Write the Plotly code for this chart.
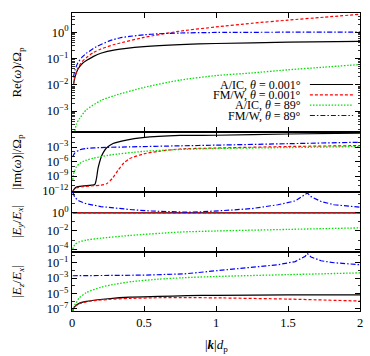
import plotly.graph_objects as go

# ---------------- data ----------------
# Panel 1: Re(omega)/Omega_p
k_re_aic0 = [0.01, 0.02, 0.04, 0.07, 0.1, 0.15, 0.2, 0.3, 0.5, 0.75, 1, 1.5, 2]
re_aic0 = [0.0100, 0.0191, 0.038, 0.063, 0.083, 0.120, 0.158, 0.214, 0.282, 0.339, 0.372, 0.417, 0.447]
k_re_fmw0 = [0.01, 0.02, 0.04, 0.07, 0.1, 0.15, 0.2, 0.3, 0.5, 0.75, 1, 1.25, 1.5, 1.75, 2]
re_fmw0 = [0.0102, 0.0204, 0.0417, 0.0759, 0.107, 0.170, 0.229, 0.347, 0.631, 1.10, 1.58, 2.19, 2.88, 3.72, 4.79]
k_re_aic89 = [0.02, 0.03, 0.05, 0.1, 0.2, 0.3, 0.5, 0.75, 1, 1.25, 1.5, 1.75, 2]
re_aic89 = [1.78e-4, 3.16e-4, 5.01e-4, 1.12e-3, 2.51e-3, 3.98e-3, 7.94e-3, 1.51e-2, 2.24e-2, 2.82e-2, 3.72e-2, 4.68e-2, 5.89e-2]
k_re_fmw89 = [0.01, 0.02, 0.04, 0.07, 0.1, 0.17, 0.26, 0.33, 0.4, 0.5, 0.6, 0.75, 1, 1.5, 2]
re_fmw89 = [0.0191, 0.0355, 0.0676, 0.112, 0.158, 0.282, 0.468, 0.603, 0.692, 0.794, 0.871, 0.933, 0.977, 1.0, 1.0]

# Panel 2: |Im(omega)|/Omega_p
k_im_aic0 = [0.005, 0.015, 0.03, 0.08, 0.158, 0.17, 0.18, 0.19, 0.204, 0.22, 0.239, 0.285, 0.378, 0.49, 0.75, 1, 1.5, 2]
im_aic0 = [6.3e-13, 2.0e-12, 5.0e-12, 8.9e-12, 1.8e-11, 3.2e-10, 3.2e-8, 5.0e-7, 1.1e-5, 1.0e-4, 6.3e-4, 5.5e-3, 2.8e-2, 8.9e-2, 0.25, 0.28, 0.50, 0.79]
k_im_fmw0 = [0.005, 0.015, 0.03, 0.08, 0.15, 0.2, 0.24, 0.28, 0.32, 0.36, 0.4, 0.5, 0.6, 0.75, 1, 1.5, 2]
im_fmw0 = [6.3e-13, 1.6e-12, 3.5e-12, 6.3e-12, 1.0e-11, 1.3e-11, 2.5e-11, 3.2e-10, 1.6e-8, 5.0e-7, 4.0e-6, 4.0e-5, 1.3e-4, 4.0e-4, 6.3e-4, 1.3e-3, 2.0e-3]
k_im_aic89 = [0.005, 0.01, 0.02, 0.03, 0.05, 0.075, 0.1, 0.15, 0.25, 0.5, 0.75, 1, 1.5, 2]
im_aic89 = [1.6e-10, 2.0e-9, 1.6e-8, 7.9e-8, 3.2e-7, 1.0e-6, 2.0e-6, 5.0e-6, 2.0e-5, 1.3e-4, 3.2e-4, 5.0e-4, 7.9e-4, 1.3e-3]
k_im_fmw89 = [0.005, 0.02, 0.05, 0.1, 0.2, 0.4, 0.75, 1, 1.5, 2]
im_fmw89 = [1.0e-5, 6.3e-5, 2.5e-4, 5.0e-4, 7.9e-4, 1.1e-3, 1.8e-3, 2.5e-3, 5.0e-3, 1.0e-2]

# Panel 3: |Ey/Ex|
k_ey_aic0 = [0.005, 0.5, 1, 1.5, 2]
ey_aic0 = [1.0, 1.0, 1.0, 1.0, 1.0]
k_ey_fmw0 = [0.005, 0.5, 1, 1.5, 2]
ey_fmw0 = [1.0, 1.0, 1.0, 1.0, 1.0]
k_ey_aic89 = [0.005, 0.01, 0.02, 0.05, 0.1, 0.2, 0.4, 0.75, 1, 1.5, 2]
ey_aic89 = [1.0e-4, 1.6e-4, 3.2e-4, 6.3e-4, 1.0e-3, 1.6e-3, 3.2e-3, 7.6e-3, 1.0e-2, 1.5e-2, 2.2e-2]
k_ey_fmw89 = [0.005, 0.02, 0.05, 0.1, 0.2, 0.3, 0.42, 0.55, 0.7, 0.8, 0.9, 1.0, 1.1, 1.25, 1.43, 1.55, 1.62, 1.635, 1.66, 1.73, 1.82, 1.9, 2.0]
ey_fmw89 = [200, 50, 20, 10, 5.0, 3.2, 2.2, 1.6, 1.26, 1.2, 1.32, 1.55, 2.0, 3.0, 7.9, 21, 93, 158, 62, 18, 7.9, 5.6, 4.2]

# Panel 4: |Ez/Ex|
k_ez_aic0 = [0.005, 0.01, 0.02, 0.05, 0.1, 0.15, 0.25, 0.4, 0.6, 0.8, 1.0, 1.5, 2]
ez_aic0 = [5.0e-8, 1.0e-7, 2.0e-7, 5.0e-7, 8.9e-7, 1.26e-6, 2.0e-6, 3.2e-6, 4.0e-6, 5.0e-6, 5.6e-6, 6.3e-6, 6.3e-6]
k_ez_fmw0 = [0.005, 0.01, 0.02, 0.05, 0.1, 0.15, 0.25, 0.4, 0.6, 0.8, 1.0, 1.5, 2]
ez_fmw0 = [5.0e-8, 1.0e-7, 1.8e-7, 4.5e-7, 7.9e-7, 1.1e-6, 1.6e-6, 2.2e-6, 2.7e-6, 2.8e-6, 2.6e-6, 1.8e-6, 1.0e-6]
k_ez_aic89 = [0.005, 0.01, 0.02, 0.03, 0.05, 0.1, 0.2, 0.3, 0.42, 0.6, 0.77, 1, 1.5, 2]
ez_aic89 = [5.0e-8, 1.26e-7, 3.2e-7, 6.3e-7, 2.5e-6, 1.26e-5, 6.3e-5, 1.6e-4, 3.5e-4, 7.1e-4, 1.1e-3, 1.6e-3, 2.8e-3, 4.7e-3]
k_ez_fmw89 = [0.005, 0.2, 0.5, 0.78, 1.0, 1.25, 1.43, 1.55, 1.62, 1.635, 1.66, 1.73, 1.82, 2.0]
ez_fmw89 = [2.0e-3, 2.0e-3, 2.4e-3, 3.5e-3, 8.9e-3, 2.1e-2, 5.5e-2, 0.14, 0.71, 1.58, 0.56, 0.18, 0.10, 0.055]

legend_labels = ["A/IC, <i>θ</i> = 0.001°", "FM/W, <i>θ</i> = 0.001°",
                 "A/IC, <i>θ</i> = 89°", "FM/W, <i>θ</i> = 89°"]
y_titles = ["Re(<i>ω</i>)/Ω<sub>p</sub>", "|Im(<i>ω</i>)|/Ω<sub>p</sub>",
            "|<i>E<sub>y</sub></i>/<i>E<sub>x</sub></i>|", "|<i>E<sub>z</sub></i>/<i>E<sub>x</sub></i>|"]
x_title = "|<b><i>k</i></b>|<i>d</i><sub>p</sub>"
x_tickvals = [0, 0.5, 1, 1.5, 2]
x_ticktext = ["0", "0.5", "1", "1.5", "2"]

# ---------------- styling ----------------
FONT = "Liberation Serif, Times New Roman, serif"
styles = [
    dict(color="#000000", width=1.2, dash="solid"),
    dict(color="#ff0000", width=1.2, dash="3px,2px"),
    dict(color="#00e000", width=1.3, dash="1.5px,1.6px"),
    dict(color="#0000ff", width=1.2, dash="5px,2px,1.5px,2px"),
]
domains = [(0.602, 1.0), (0.401, 0.602), (0.198, 0.401), (0.0, 0.198)]
yranges = [(-3.78, 0.73), (-12.2, 0.2), (-4.32, 2.36), (-7.3, 0.4)]

def sup(n):
    return "10<sup>" + str(n).replace("-", "−") + "</sup>"

major_exps = [[0, -1, -2, -3], [-3, -6, -9, -12], [0, -2, -4], [-1, -3, -5, -7]]
minor_vals = [
    [m * 10.0 ** e for e in range(-4, 1) for m in range(2, 10)],
    [10.0 ** e for e in range(-12, 1)],
    [10.0 ** e for e in range(-4, 3)],
    [10.0 ** e for e in range(-7, 1)],
]

panels = [
    [(k_re_aic0, re_aic0), (k_re_fmw0, re_fmw0), (k_re_aic89, re_aic89), (k_re_fmw89, re_fmw89)],
    [(k_im_aic0, im_aic0), (k_im_fmw0, im_fmw0), (k_im_aic89, im_aic89), (k_im_fmw89, im_fmw89)],
    [(k_ey_aic0, ey_aic0), (k_ey_fmw0, ey_fmw0), (k_ey_aic89, ey_aic89), (k_ey_fmw89, ey_fmw89)],
    [(k_ez_aic0, ez_aic0), (k_ez_fmw0, ez_fmw0), (k_ez_aic89, ez_aic89), (k_ez_fmw89, ez_fmw89)],
]

fig = go.Figure()
for r, series in enumerate(panels):
    xa = "x" if r == 0 else f"x{r+1}"
    ya = "y" if r == 0 else f"y{r+1}"
    for s, (kk, vv) in enumerate(series):
        cusp = (r >= 2 and s == 3)
        fig.add_trace(go.Scatter(
            x=kk, y=vv, mode="lines", xaxis=xa, yaxis=ya,
            name=legend_labels[s], showlegend=False, hoverinfo="skip",
            line=dict(**styles[s], shape="linear" if cusp else "spline",
                      smoothing=0.6),
        ))

layout = dict(
    template="none",
    width=370, height=356,
    margin=dict(l=72, r=10, t=13, b=45, autoexpand=False),
    paper_bgcolor="white", plot_bgcolor="white",
    font=dict(family=FONT, size=12, color="black"),
    showlegend=False,
)
for r in range(4):
    xkey = "xaxis" if r == 0 else f"xaxis{r+1}"
    ykey = "yaxis" if r == 0 else f"yaxis{r+1}"
    yname = "y" if r == 0 else f"y{r+1}"
    xname = "x" if r == 0 else f"x{r+1}"
    layout[xkey] = dict(
        domain=[0, 1], anchor=yname, range=[0, 2], automargin=False,
        tickmode="array", tickvals=x_tickvals, ticktext=x_ticktext,
        showticklabels=(r == 3), ticklabeloverflow="allow",
        ticks="inside", ticklen=5, tickwidth=1, tickcolor="black",
        showline=True, linecolor="black", linewidth=1, mirror="ticks",
        showgrid=False, zeroline=False,
        tickfont=dict(size=12.5),
    )
    if r > 0:
        layout[xkey]["matches"] = "x"
    layout[ykey] = dict(
        domain=list(domains[r]), anchor=xname, type="log", range=list(yranges[r]),
        automargin=False, tickmode="array",
        tickvals=[10.0 ** e for e in major_exps[r]],
        ticktext=[sup(e) for e in major_exps[r]],
        ticks="inside", ticklen=5, tickwidth=1, tickcolor="black",
        minor=dict(tickmode="array", tickvals=minor_vals[r], ticks="inside", ticklen=2.5,
                   tickwidth=0.8, tickcolor="black", showgrid=False),
        showline=True, linecolor="black", linewidth=1, mirror="ticks",
        showgrid=False, zeroline=False, tickfont=dict(size=12.5),
        ticklabeloverflow="allow",
    )
fig.update_layout(**layout)

# y-axis titles (aligned like the reference)
ycent = [(d[0] + d[1]) / 2 for d in domains]
for r in range(4):
    fig.add_annotation(text=y_titles[r], xref="paper", yref="paper",
                       x=-0.19, y=ycent[r], textangle=-90, showarrow=False,
                       xanchor="center", yanchor="middle", font=dict(size=13))
fig.add_annotation(text=x_title, xref="paper", yref="paper", x=0.5, y=-0.08,
                   showarrow=False, xanchor="center", yanchor="top",
                   font=dict(size=13))

# legend (text right-aligned, sample on the right, like the reference)
leg_y = [0.760, 0.725, 0.691, 0.656]
for i in range(4):
    fig.add_annotation(text=legend_labels[i], xref="paper", yref="paper",
                       x=0.802, y=leg_y[i], xanchor="right", yanchor="middle",
                       showarrow=False, font=dict(size=12))
    fig.add_shape(type="line", xref="paper", yref="paper",
                  x0=0.826, x1=0.976, y0=leg_y[i], y1=leg_y[i],
                  line=dict(color=styles[i]["color"], width=styles[i]["width"],
                            dash=styles[i]["dash"]))

fig.write_html("out.html",
               config={"displayModeBar": False, "staticPlot": True},
               post_script="document.body.style.margin='0px';"
                           "document.body.style.overflow='hidden';")
